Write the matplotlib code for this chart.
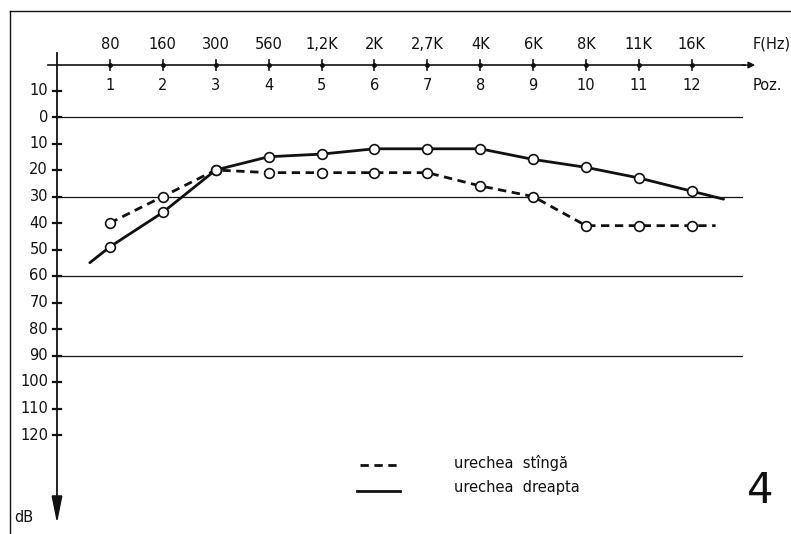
import matplotlib
matplotlib.use("Agg")
import matplotlib.pyplot as plt
from matplotlib.patches import Polygon

# Audiogram: hearing threshold (dB, increasing downward) per test position
positions = [1, 2, 3, 4, 5, 6, 7, 8, 9, 10, 11, 12]
freq_labels = ["80", "160", "300", "560", "1,2K", "2K", "2,7K", "4K", "6K", "8K", "11K", "16K"]
left_ear_db = [40, 30, 20, 21, 21, 21, 21, 26, 30, 41, 41, 41]     # urechea stîngă
right_ear_db = [49, 36, 20, 15, 14, 12, 12, 12, 16, 19, 23, 28]    # urechea dreapta
# freehand continuations of the curves beyond the first / last measured point
right_start = (0.62, 55)
right_end = (12.6, 31)
left_end = (12.45, 41)
db_ticks = [-10, 0, 10, 20, 30, 40, 50, 60, 70, 80, 90, 100, 110, 120]
db_tick_labels = ["10", "0", "10", "20", "30", "40", "50", "60", "70", "80", "90", "100", "110", "120"]
ref_lines_db = [0, 30, 60, 90]

W, H = 791, 534
fig = plt.figure(figsize=(W / 100, H / 100), dpi=100)
ax = fig.add_axes([0, 0, 1, 1])
ax.set_axis_off()

# scale: 52.9 px per position, 2.65 px per dB; origin at pixel (57, 117)
px_x, px_y = 52.9, 2.65
x0, y0 = 57, 117
ax.set_xlim(-x0 / px_x, (W - x0) / px_x)
ax.set_ylim((H - y0) / px_y, -y0 / px_y)

ink = "#111111"
fs = 10.5

# page frame (top and left)
ax.plot([10 / W, 1], [1 - 11 / H, 1 - 11 / H], transform=ax.transAxes, color=ink, lw=1.0)
ax.plot([10 / W, 10 / W], [1 - 11 / H, 0], transform=ax.transAxes, color=ink, lw=1.0)

# reference lines
for d in ref_lines_db:
    ax.plot([0, 12.95], [d, d], color=ink, lw=0.9)

# vertical dB axis with downward arrow
ax.plot([0, 0], [-24, 146], color=ink, lw=1.3)
ax.add_patch(Polygon([[-0.09, 143], [0.09, 143], [0, 152]], closed=True, color=ink))
for d, lab in zip(db_ticks, db_tick_labels):
    ax.plot([-0.08, 0.08], [d, d], color=ink, lw=1.6)
    ax.text(-0.17, d, lab, ha="right", va="center", fontsize=fs, color=ink)
ax.text(-0.8, 151, "dB", ha="left", va="center", fontsize=fs, color=ink)

# horizontal frequency / position axis with arrow
ax.plot([-0.17, 13.0], [-19.6, -19.6], color=ink, lw=1.2)
ax.annotate("", xy=(13.25, -19.6), xytext=(12.9, -19.6),
            arrowprops=dict(arrowstyle="-|>", color=ink, lw=1.0, mutation_scale=10))
ax.plot(positions, [-19.6] * len(positions), "o", color=ink, ms=2.5)
for p in positions:
    ax.plot([p, p], [-21.5, -17.7], color=ink, lw=1.2)
for p, fl in zip(positions, freq_labels):
    ax.text(p, -27.5, fl, ha="center", va="center", fontsize=fs, color=ink)
    ax.text(p, -12, str(p), ha="center", va="center", fontsize=fs, color=ink)
ax.text(13.15, -27.5, "F(Hz)", ha="left", va="center", fontsize=fs, color=ink)
ax.text(13.15, -12, "Poz.", ha="left", va="center", fontsize=fs, color=ink)

# curves
rx = [right_start[0]] + positions + [right_end[0]]
ry = [right_start[1]] + right_ear_db + [right_end[1]]
ax.plot(rx, ry, color=ink, lw=2.0, solid_capstyle="round")
lx = positions + [left_end[0]]
ly = left_ear_db + [left_end[1]]
ax.plot(lx, ly, color=ink, lw=2.0, dashes=(3, 2))
marker_style = dict(marker="o", ms=7, mfc="white", mec=ink, mew=1.2, ls="none")
ax.plot(positions, left_ear_db, **marker_style)
ax.plot(positions, right_ear_db, **marker_style)

# key
ax.plot([5.73, 6.48], [131.5, 131.5], color=ink, lw=2.0, dashes=(3, 2))
ax.plot([5.68, 6.48], [141, 141], color=ink, lw=2.0)
ax.text(7.5, 130.5, "urechea  stîngă", ha="left", va="center", fontsize=fs, color=ink)
ax.text(7.5, 139.8, "urechea  dreapta", ha="left", va="center", fontsize=fs, color=ink)

# figure number
ax.text(13.3, 141, "4", ha="center", va="center", fontsize=30, color=ink)

fig.savefig("out.png", dpi=100, facecolor="white")
